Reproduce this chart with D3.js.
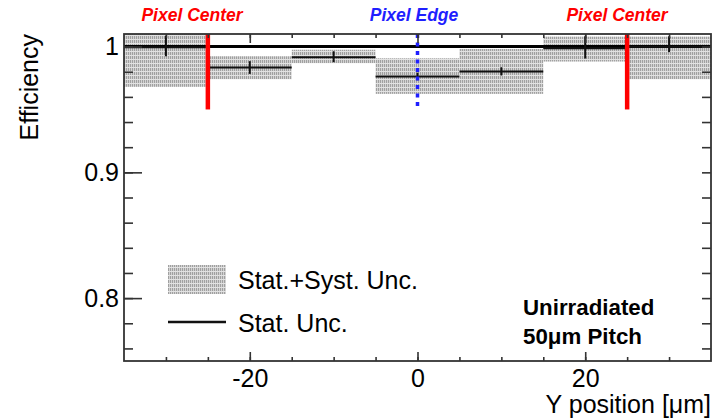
<!DOCTYPE html>
<html>
<head>
<meta charset="utf-8">
<script src="https://cdn.jsdelivr.net/npm/d3@7"></script>
<style>
  body { margin: 0; background: #fff; }
  svg { display: block; font-family: "Liberation Sans", Arial, sans-serif; }
</style>
</head>
<body>
<div id="chart"></div>
<script>
// bins of 10 um, centres
const binCenters = [-30, -20, -10, 0, 10, 20, 30];
const binWidth = 10;
const efficiency = [0.9995, 0.9834, 0.9916, 0.9762, 0.9802, 0.9986, 0.9998];
const statUp = [1.0087, 0.9884, 0.9963, 0.9792, 0.9836, 1.0082, 1.0082];
const statDown = [0.9923, 0.9783, 0.9876, 0.9732, 0.9770, 0.9905, 0.9956];
const bandUp = [1.031, 0.9923, 0.9975, 0.9907, 0.9981, 1.0079, 1.0079];
const bandDown = [0.968, 0.974, 0.9868, 0.9624, 0.9624, 0.9881, 0.974];
const xMajorTicks = [-20, 0, 20];
const yMajorTicks = [0.8, 0.9, 1.0];
const yTickLabels = ['0.8', '0.9', '1'];
const markers = [
  { x: -25, label: 'Pixel Center', color: '#ff0000', dash: null, labelX: 192 },
  { x: 0, label: 'Pixel Edge', color: '#1f1fff', dash: '4,4.5', labelX: 414 },
  { x: 25, label: 'Pixel Center', color: '#ff0000', dash: null, labelX: 617 }
];

const W = 721, H = 420;
const m = { top: 34, right: 10, bottom: 59, left: 124 };
const svg = d3.select('#chart').append('svg').attr('width', W).attr('height', H);

const x = d3.scaleLinear().domain([-35, 35]).range([m.left, W - m.right]);
const y = d3.scaleLinear().domain([0.75, 1.01]).range([H - m.bottom, m.top]);

const defs = svg.append('defs');
const pat = defs.append('pattern').attr('id', 'dots').attr('patternUnits', 'userSpaceOnUse')
  .attr('width', 2).attr('height', 4);
pat.append('rect').attr('width', 2).attr('height', 4).attr('fill', '#a0a0a0');
pat.append('rect').attr('x', 1).attr('width', 1).attr('height', 4).attr('fill', '#d2d2d2');
pat.append('rect').attr('y', 3).attr('width', 2).attr('height', 1).attr('fill', '#e2e2e2');
defs.append('clipPath').attr('id', 'plot').append('rect')
  .attr('x', m.left).attr('y', m.top).attr('width', W - m.left - m.right).attr('height', H - m.top - m.bottom);

const plot = svg.append('g').attr('clip-path', 'url(#plot)');

// syst bands
plot.selectAll('.band').data(binCenters).join('rect')
  .attr('x', d => x(d - binWidth / 2))
  .attr('width', d => x(d + binWidth / 2) - x(d - binWidth / 2))
  .attr('y', (d, i) => y(bandUp[i]))
  .attr('height', (d, i) => y(bandDown[i]) - y(bandUp[i]))
  .attr('fill', 'url(#dots)');

// line at 1
plot.append('line').attr('x1', x(-35)).attr('x2', x(35)).attr('y1', y(1)).attr('y2', y(1))
  .attr('stroke', '#000').attr('stroke-width', 3);

// stat
plot.selectAll('.hline').data(binCenters).join('line')
  .attr('x1', d => x(d - binWidth / 2)).attr('x2', d => x(d + binWidth / 2))
  .attr('y1', (d, i) => y(efficiency[i])).attr('y2', (d, i) => y(efficiency[i]))
  .attr('stroke', '#111').attr('stroke-width', 2);
plot.selectAll('.vline').data(binCenters).join('line')
  .attr('x1', d => x(d)).attr('x2', d => x(d))
  .attr('y1', (d, i) => y(statUp[i])).attr('y2', (d, i) => y(statDown[i]))
  .attr('stroke', '#111').attr('stroke-width', 2);

// pixel markers
markers.forEach(mk => {
  plot.append('line').attr('x1', x(mk.x)).attr('x2', x(mk.x)).attr('y1', y(1.01)).attr('y2', y(0.95))
    .attr('stroke', mk.color).attr('stroke-width', mk.dash ? 3.5 : 4.5)
    .attr('stroke-dasharray', mk.dash);
  svg.append('text').text(mk.label).attr('x', mk.labelX).attr('y', 21)
    .attr('text-anchor', 'middle').attr('fill', mk.color)
    .style('font-size', '17.5px').style('font-weight', 'bold').style('font-style', 'italic');
});

// axes
const axisColor = '#333';
function styleAxis(g) {
  g.select('.domain').remove();
  g.selectAll('line').attr('stroke', axisColor).attr('stroke-width', 1.6);
}
const bottom = H - m.bottom;
svg.append('g').attr('transform', `translate(0,${bottom})`)
  .call(d3.axisBottom(x).tickValues(d3.range(-30, 31, 5)).tickSize(-4).tickFormat(''))
  .call(styleAxis);
const xMaj = svg.append('g').attr('transform', `translate(0,${bottom})`)
  .call(d3.axisBottom(x).tickValues(xMajorTicks).tickSize(-9).tickPadding(8).tickFormat(d => String(d)))
  .call(styleAxis);
xMaj.selectAll('text').attr('dy', '0.71em').attr('fill', '#000')
  .style('font-size', '25px').style('font-family', '"Liberation Sans", Arial, sans-serif');
svg.append('g').attr('transform', `translate(0,${m.top})`)
  .call(d3.axisTop(x).tickValues(d3.range(-30, 31, 5)).tickSize(-4).tickFormat(''))
  .call(styleAxis);
svg.append('g').attr('transform', `translate(0,${m.top})`)
  .call(d3.axisTop(x).tickValues(xMajorTicks).tickSize(-9).tickFormat(''))
  .call(styleAxis);

const yMinor = d3.range(38, 51).map(d => d / 50);
svg.append('g').attr('transform', `translate(${m.left},0)`)
  .call(d3.axisLeft(y).tickValues(yMinor).tickSize(-9).tickFormat(''))
  .call(styleAxis);
const yMaj = svg.append('g').attr('transform', `translate(${m.left},0)`)
  .call(d3.axisLeft(y).tickValues(yMajorTicks).tickSize(-18).tickPadding(5)
    .tickFormat((d, i) => yTickLabels[i]))
  .call(styleAxis);
yMaj.selectAll('text').attr('x', -5).attr('fill', '#000')
  .style('font-size', '25px').style('font-family', '"Liberation Sans", Arial, sans-serif');
svg.append('g').attr('transform', `translate(${W - m.right},0)`)
  .call(d3.axisRight(y).tickValues(yMinor).tickSize(-9).tickFormat(''))
  .call(styleAxis);

// frame
svg.append('rect').attr('x', m.left).attr('y', m.top)
  .attr('width', W - m.left - m.right).attr('height', H - m.top - m.bottom)
  .attr('fill', 'none').attr('stroke', axisColor).attr('stroke-width', 1.8);

// titles
svg.append('text').text('Y position [μm]').attr('x', W - m.right).attr('y', 413)
  .attr('text-anchor', 'end').style('font-size', '25px');
svg.append('text').text('Efficiency').attr('transform', `translate(38,${m.top}) rotate(-90)`)
  .attr('text-anchor', 'end').style('font-size', '25px');

// legend
svg.append('rect').attr('x', 168).attr('y', 265).attr('width', 58).attr('height', 29).attr('fill', 'url(#dots)');
svg.append('text').text('Stat.+Syst. Unc.').attr('x', 238).attr('y', 289).style('font-size', '25px');
svg.append('line').attr('x1', 168).attr('x2', 226).attr('y1', 322).attr('y2', 322)
  .attr('stroke', '#111').attr('stroke-width', 2.5);
svg.append('text').text('Stat. Unc.').attr('x', 238).attr('y', 332).style('font-size', '25px');

// info
svg.append('text').text('Unirradiated').attr('x', 523).attr('y', 315)
  .style('font-size', '22.3px').style('font-weight', 'bold');
svg.append('text').text('50μm Pitch').attr('x', 523).attr('y', 344)
  .style('font-size', '22.3px').style('font-weight', 'bold');
</script>
</body>
</html>
